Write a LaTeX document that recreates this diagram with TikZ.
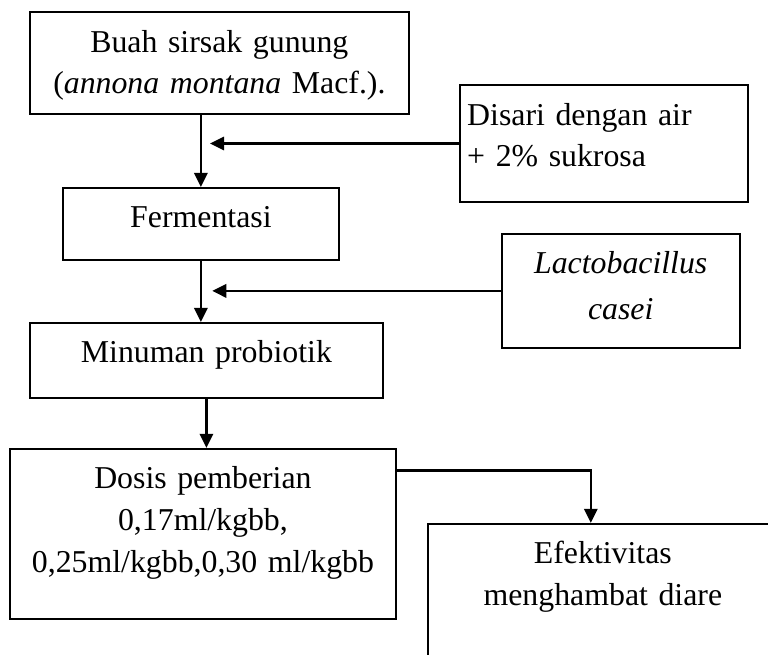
\documentclass[tikz,border=0pt]{standalone}
\usepackage{fontspec}
\setmainfont{Liberation Serif}
\usepackage{tikz}
\usetikzlibrary{arrows.meta,positioning,calc}
\tikzset{
  flowbox/.style={draw, line width=0.75pt, align=center,
                  text width=#1, inner xsep=0.1cm, inner ysep=0pt,
                  text height=0.53cm,
                  font=\fontsize{12}{15.8}\selectfont},
  flowbox/.default=3.5cm,
  sidebox/.style={flowbox=#1, align=left},
  arr/.style    ={-{Triangle[length=5.3pt, width=5pt]}, line width=0.9pt},
}

\begin{document}
\begin{tikzpicture}
\useasboundingbox (0,0) rectangle (10.18,8.68);

%% ─── Main chain ──────────────────────────────────────────────────────────────
\node[flowbox=4.82cm, anchor=north, text depth=0.82cm] (buah) at (2.908, 8.533)
  {Buah sirsak gunung\\(\textit{annona montana} Macf.).};
\node[flowbox=3.46cm, anchor=north, text depth=0.42cm] (ferm) at (2.663, 6.201)
  {Fermentasi};
\node[flowbox=4.48cm, anchor=north, text depth=0.46cm] (minum) at (2.736, 4.412)
  {Minuman probiotik};
\node[flowbox=4.91cm, anchor=north, text depth=1.72cm] (dosis) at (2.690, 2.743)
  {Dosis pemberian\\0,17ml/kgbb,\\0,25ml/kgbb,0,30 ml/kgbb};
\node[flowbox=4.44cm, anchor=north west, text depth=2.0cm] (efek) at (5.658, 1.749)
  {Efektivitas\\menghambat diare};

%% ─── Side inputs ─────────────────────────────────────────────────────────────
\node[sidebox=3.62cm, anchor=north, text depth=1.02cm] (disari) at (8.003, 7.566)
  {Disari dengan air\\+ 2\% sukrosa};
\node[flowbox=2.95cm, anchor=north, text depth=0.98cm,
      font=\fontsize{12}{17}\selectfont\itshape] (lacto) at (8.228, 5.592)
  {Lactobacillus\\casei};

%% ─── Arrows ──────────────────────────────────────────────────────────────────
\draw[arr] (buah.south -| ferm.north) -- (ferm.north);
\draw[arr] (ferm.south) -- (minum.north -| ferm.south);
\draw[arr] (minum.south) -- (minum.south |- dosis.north);

\coordinate (in1) at ($(ferm.north)+(0.12,0)$);
\coordinate (in2) at ($(ferm.south)+(0.15,0)$);
\draw[arr] (disari.west) -- (disari.west -| in1);
\draw[arr] (lacto.west)  -- (lacto.west -| in2);

\coordinate (out) at ([yshift=-0.3cm]dosis.north east);
\draw[arr] (out) -| ([xshift=-0.16cm]efek.north);

\end{tikzpicture}
\end{document}
